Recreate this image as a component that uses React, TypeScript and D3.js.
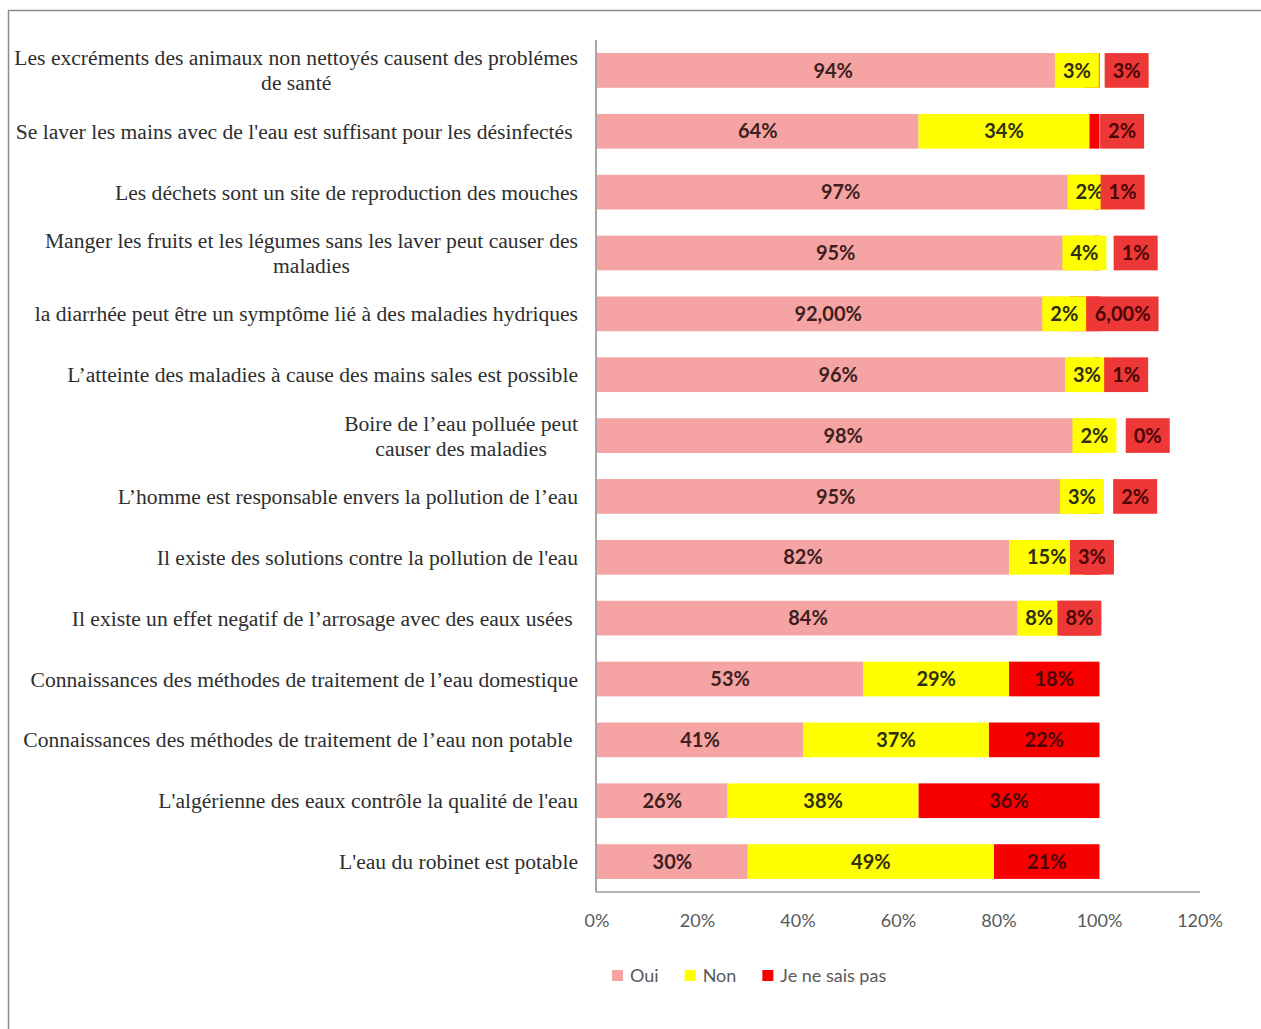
import React, { useEffect, useRef } from "react";
import * as d3 from "d3";

const categories: string[][] = [
  ["Les excréments des animaux non nettoyés causent des problémes", "de santé"],
  ["Se laver les mains avec de l'eau est suffisant pour les désinfectés "],
  ["Les déchets sont un site de reproduction des mouches"],
  ["Manger les fruits et les légumes sans les laver peut causer des", "maladies"],
  ["la diarrhée peut être un symptôme lié à des maladies hydriques"],
  ["L’atteinte des maladies à cause des mains sales est possible"],
  ["Boire de l’eau polluée peut", "causer des maladies"],
  ["L’homme est responsable envers la pollution de l’eau"],
  ["Il existe des solutions contre la pollution de l'eau"],
  ["Il existe un effet negatif de l’arrosage avec des eaux usées "],
  ["Connaissances des méthodes de traitement de l’eau domestique"],
  ["Connaissances des méthodes de traitement de l’eau non potable "],
  ["L'algérienne des eaux contrôle la qualité de l'eau"],
  ["L'eau du robinet est potable"],
];

const oui = [94, 64, 97, 95, 92, 96, 98, 95, 82, 84, 53, 41, 26, 30];
const non = [3, 34, 2, 4, 2, 3, 2, 3, 15, 8, 29, 37, 38, 49];
const nsp = [3, 2, 1, 1, 6, 1, 0, 2, 3, 8, 18, 22, 36, 21];

const seriesNames = ["Oui", "Non", "Je ne sais pas"];
const xTicks = [0, 20, 40, 60, 80, 100, 120];

// labels shown with two decimals in the source ("92,00%", "6,00%")
const twoDecimalLabels = [
  [4, 0],
  [4, 2],
];
// manual offsets (in % units) of the "Je ne sais pas" data labels, as dragged in the source
const nspLabelNudge = [6.9, 5.5, 5.1, 7.7, 7.6, 5.8, 9.6, 8.1, 0, 0, 0, 0, 0, 0];

const COLORS = ["#F6A3A3", "#FFFF00", "#F80000"];
const LABEL_BOX = [null, "#FFFF00", "#EE3838"];
const LABEL_TEXT = ["#3d1f1f", "#2e2e10", "#4a0505"];

export default function App() {
  const ref = useRef<SVGSVGElement | null>(null);

  useEffect(() => {
    document.body.style.margin = "0";
    const svg = d3.select(ref.current);
    svg.selectAll("*").remove();

    const W = 1261;
    const H = 1029;
    const left = 597;
    const right = 1200;
    const top = 40;
    const bottom = 892;

    // frame
    svg
      .append("path")
      .attr("d", `M8.5,${H} L8.5,10.5 L${W},10.5`)
      .attr("fill", "none")
      .attr("stroke", "#8c8c8c")
      .attr("stroke-width", 1.5);

    const x = d3.scaleLinear().domain([0, 120]).range([left, right]);
    const idx = categories.map((_, i) => String(i));
    const y = d3
      .scaleBand<string>()
      .domain(idx)
      .range([top, bottom])
      .paddingInner(0.43)
      .paddingOuter(0.215);

    const rows = oui.map((_, i) => ({ i, vals: [oui[i], non[i], nsp[i]] }));
    const stackData = rows.map((r) => ({ key: String(r.i), a: r.vals[0], b: r.vals[1], c: r.vals[2] }));
    const stack = d3.stack<any>().keys(["a", "b", "c"]);
    const layers = stack(stackData);

    const g = svg.append("g");
    layers.forEach((layer, s) => {
      g.selectAll(null)
        .data(layer)
        .enter()
        .append("rect")
        .attr("x", (d) => x(d[0]))
        .attr("width", (d) => Math.max(0, x(d[1]) - x(d[0])))
        .attr("y", (d: any) => y(d.data.key)!)
        .attr("height", y.bandwidth())
        .attr("fill", COLORS[s]);
    });

    // axes lines
    svg
      .append("line")
      .attr("x1", left - 1)
      .attr("x2", left - 1)
      .attr("y1", top)
      .attr("y2", bottom)
      .attr("stroke", "#8a8a8a")
      .attr("stroke-width", 1.5);
    svg
      .append("line")
      .attr("x1", left - 1)
      .attr("x2", right)
      .attr("y1", bottom)
      .attr("y2", bottom)
      .attr("stroke", "#9a9a9a")
      .attr("stroke-width", 1.5);

    // tick labels
    svg
      .selectAll(null)
      .data(xTicks)
      .enter()
      .append("text")
      .attr("x", (d) => x(d))
      .attr("y", 927)
      .attr("text-anchor", "middle")
      .attr("font-family", "Lato, sans-serif")
      .attr("font-size", 18)
      .attr("fill", "#595959")
      .text((d) => `${d}%`);

    // data labels
    const fmt = (i: number, s: number, v: number) =>
      twoDecimalLabels.some((p) => p[0] === i && p[1] === s) ? `${v},00%` : `${v}%`;

    const lbl = svg.append("g");
    layers.forEach((layer, s) => {
      layer.forEach((d: any, i: number) => {
        const v = rows[i].vals[s];
        const nudge = s === 2 ? nspLabelNudge[i] : 0;
        const cx = (x(d[0]) + x(d[1])) / 2 + (x(nudge) - x(0));
        const cy = y(d.data.key)! + y.bandwidth() / 2;
        const t = lbl
          .append("text")
          .attr("x", cx)
          .attr("y", cy)
          .attr("dy", "0.36em")
          .attr("text-anchor", "middle")
          .attr("font-family", "Lato, sans-serif")
          .attr("font-weight", 700)
          .attr("font-size", 20)
          .attr("fill", LABEL_TEXT[s])
          .text(fmt(i, s, v));
        const box = LABEL_BOX[s];
        const segW = x(d[1]) - x(d[0]);
        if (box) {
          const tw = (t.node() as SVGTextElement).getComputedTextLength();
          const bw = tw + 16;
          if (bw > segW || nudge !== 0) {
            lbl
              .insert("rect", () => t.node() as any)
              .attr("x", cx - bw / 2)
              .attr("y", y(d.data.key)!)
              .attr("width", bw)
              .attr("height", y.bandwidth())
              .attr("fill", box);
          }
        }
      });
    });

    // category labels
    const catG = svg.append("g");
    const rightEdge = 578;
    categories.forEach((lines, i) => {
      const cy = y(String(i))! + y.bandwidth() / 2;
      const lh = 25;
      const texts = lines.map((line, k) =>
        catG
          .append("text")
          .attr("y", cy + (k - (lines.length - 1) / 2) * lh)
          .attr("dy", "0.35em")
          .attr("font-family", "'Liberation Serif', 'Times New Roman', serif")
          .attr("font-size", 21.6)
          .attr("fill", "#2e2e2e")
          .style("white-space", "pre")
          .text(line)
      );
      const widths = texts.map((t) => (t.node() as SVGTextElement).getComputedTextLength());
      const maxW = Math.max(...widths);
      if (lines.length === 1) {
        texts[0].attr("x", rightEdge).attr("text-anchor", "end");
      } else {
        const c = rightEdge - maxW / 2;
        texts.forEach((t) => t.attr("x", c).attr("text-anchor", "middle"));
      }
    });

    // legend
    const leg = svg.append("g");
    let lx = 612;
    seriesNames.forEach((name, s) => {
      leg
        .append("rect")
        .attr("x", lx)
        .attr("y", 970)
        .attr("width", 11)
        .attr("height", 11)
        .attr("fill", COLORS[s]);
      const t = leg
        .append("text")
        .attr("x", lx + 18)
        .attr("y", 976)
        .attr("dy", "0.35em")
        .attr("font-family", "Lato, sans-serif")
        .attr("font-size", 18)
        .attr("fill", "#595959")
        .text(name);
      lx += 18 + (t.node() as SVGTextElement).getComputedTextLength() + 26;
    });
  }, []);

  return <svg ref={ref} width={1261} height={1029} style={{ display: "block", background: "#ffffff" }} />;
}
